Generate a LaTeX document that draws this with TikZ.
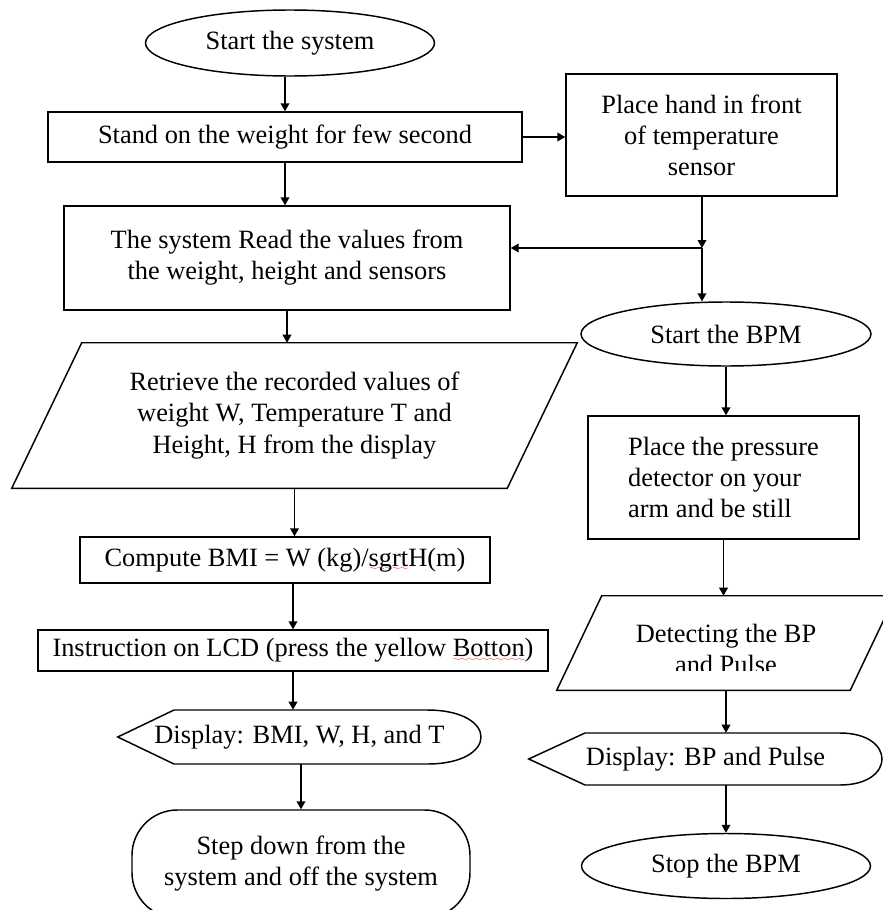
\documentclass[tikz,border=0pt]{standalone}
\usepackage{fontspec}
\setmainfont{Liberation Serif}
\usetikzlibrary{shapes.geometric,arrows.meta}
\font\wavefont=lasy6
\newcommand\spellwave[1]{\setbox0\hbox{#1}\rlap{\textcolor{red}{\lower3.5pt\hbox to\wd0{\xleaders\hbox{\wavefont\char58}\hfill}}}\box0}
\newcommand\diagfont{\fontsize{19.8pt}{23.3pt}\selectfont}
\tikzset{
  base/.style={draw, line width=1.1pt, inner sep=0pt, font=\diagfont, align=center},
  box/.style={base, rectangle},
  oval/.style={base, ellipse},
  ghost/.style={inner sep=0pt, font=\diagfont, align=center},
  arr/.style={line width=1.1pt, -{Triangle[length=6pt,width=6.5pt]}},
  outline/.style={line width=1.1pt, line join=miter}
}
\begin{document}
\begin{tikzpicture}[x=0.75pt,y=-0.75pt]
\useasboundingbox (0,0) rectangle (882,910);

% left column
\node[oval, minimum width=216.75pt, minimum height=49.5pt] (start) at (290,43) {Start the system};
\node[box, minimum width=355.5pt, minimum height=37.5pt] (stand) at (285,137) {Stand on the weight for few second};
\node[box, minimum width=334.5pt, minimum height=78pt] (read) at (287,258) {The system Read the values from\\the weight, height and sensors};
\node[ghost, minimum width=371.25pt, minimum height=108.75pt] (retrieve) at (294.5,415.5) {Retrieve the recorded values of\\weight W, Temperature T and\\Height, H from the display};
\draw[outline] ([xshift=26.25pt]retrieve.north west) -- ([xshift=26.25pt]retrieve.north east) -- ([xshift=-26.25pt]retrieve.south east) -- ([xshift=-26.25pt]retrieve.south west) -- cycle;
\node[box, minimum width=307.5pt, minimum height=34.5pt] (compute) at (285,560) {Compute BMI = W (kg)/\spellwave{sgrt}H(m)};
\node[box, minimum width=382.5pt, minimum height=30.75pt] (instr) at (293,650.5) {Instruction on LCD (press the yellow \spellwave{Botton})};
\node[ghost, minimum width=272.25pt, minimum height=40.5pt] (dispbmi) at (299.5,737) {Display: BMI, W, H, and T};
\draw[outline] (dispbmi.west) -- (174,710) -- (427,710) .. controls (499,710) and (499,764) .. (427,764) -- (174,764) -- cycle;
\node[box, rounded corners=34pt, minimum width=253.5pt, minimum height=81pt] (step) at (301,864) {Step down from the\\system and off the system};

% right column
\node[box, minimum width=203.25pt, minimum height=91.5pt] (place) at (701.5,135) {Place hand in front\\of temperature\\sensor};
\coordinate (j) at (702,248);
\node[oval, minimum width=217.5pt, minimum height=48pt] (bpm) at (726,334) {Start the BPM};
\node[box, minimum width=203.25pt, minimum height=92.25pt, align=left] (pressure) at (723.5,477.5) {Place the pressure\\detector on your\\arm and be still};
\node[ghost, minimum width=219.75pt, minimum height=70.5pt] (detect) at (726,643) {};
\draw[outline] ([xshift=16.875pt]detect.north west) -- ([xshift=16.875pt]detect.north east) -- ([xshift=-16.875pt]detect.south east) -- ([xshift=-16.875pt]detect.south west) -- cycle;
\begin{scope}
  \clip (540,600) rectangle (882,670);
  \node[ghost] (detecttext) at (726,649) {Detecting the BP\\and Pulse};
\end{scope}
\node[ghost, minimum width=264.75pt, minimum height=39pt] (dispbp) at (705.5,759) {Display: BP and Pulse};
\draw[outline] (dispbp.west) -- (585,733) -- (840,733) .. controls (896,733) and (896,785) .. (840,785) -- (585,785) -- cycle;
\node[oval, minimum width=216.75pt, minimum height=48.75pt] (stop) at (726,866) {Stop the BPM};

% connectors
\draw[arr] (stand.north |- start.south) -- (stand.north);
\draw[arr] (stand.east) -- (place.west |- stand.east);
\draw[arr] (stand.south) -- (stand.south |- read.north);
\draw[arr] (j |- place.south) -- (j);
\draw[arr] (j) -- (j -| read.east);
\draw[arr] (j) -- (j |- bpm.north);
\draw[arr] (read.south) -- (read.south |- retrieve.north);
\draw[arr] (retrieve.south) -- (retrieve.south |- compute.north);
\draw[arr] (instr.north |- compute.south) -- (instr.north);
\draw[arr] (instr.south) -- (instr.south |- dispbmi.north);
\draw[arr] (step.north |- dispbmi.south) -- (step.north);
\draw[arr] (bpm.south) -- (bpm.south |- pressure.north);
\draw[arr] (pressure.south) -- (pressure.south |- detect.north);
\draw[arr] (detect.south) -- (detect.south |- dispbp.north);
\draw[arr] (stop.north |- dispbp.south) -- (stop.north);
\end{tikzpicture}
\end{document}
